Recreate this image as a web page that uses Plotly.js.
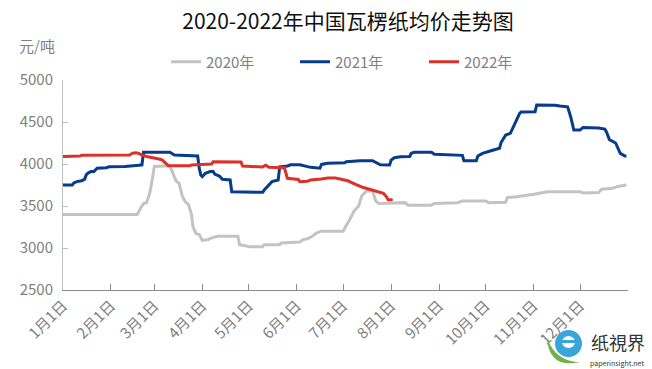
<!DOCTYPE html>
<html>
<head>
<meta charset="utf-8">
<script src="https://cdn.plot.ly/plotly-3.0.1.min.js"></script>
<style>html,body{margin:0;padding:0;background:#fff;}#chart{width:652px;height:369px;}</style>
</head>
<body>
<div id="chart"></div>
<script>
// Common base year for the month-day axis
const baseYear = '2021';
const monthTickLabels = ['1月1日','2月1日','3月1日','4月1日','5月1日','6月1日','7月1日','8月1日','9月1日','10月1日','11月1日','12月1日'];
const seriesNames = ['2020年','2021年','2022年'];

const md2020 = ['01-01','02-18','02-20','02-22','02-24','02-26','02-28','03-01','03-11','03-13','03-15','03-17','03-19','03-21','03-23','03-25','03-26','03-28','03-30','04-01','04-05','04-07','04-11','04-24','04-25','05-02','05-10','05-11','05-21','05-22','06-03','06-05','06-08','06-11','06-14','06-17','07-01','07-03','07-05','07-08','07-11','07-13','07-16','07-20','07-22','07-24','08-10','08-12','08-27','08-29','09-13','09-16','10-01','10-03','10-14','10-15','10-21','11-01','11-10','12-01','12-03','12-13','12-15','12-22','12-25','12-29','12-31'];
const val2020 = [3400,3400,3470,3530,3540,3650,3850,3970,3980,3900,3800,3770,3620,3550,3520,3400,3250,3170,3160,3090,3100,3120,3140,3140,3040,3015,3015,3040,3040,3060,3070,3100,3110,3140,3180,3200,3200,3270,3330,3440,3500,3620,3680,3680,3560,3530,3540,3510,3510,3530,3540,3560,3560,3540,3545,3600,3610,3640,3670,3670,3655,3660,3700,3710,3730,3745,3750];

const md2021 = ['01-01','01-07','01-08','01-10','01-13','01-15','01-16','01-17','01-19','01-21','01-23','01-29','01-31','02-10','02-19','02-21','02-22','03-11','03-14','03-27','03-29','03-30','03-31','04-01','04-03','04-06','04-08','04-09','04-12','04-14','04-19','04-20','05-10','05-11','05-13','05-16','05-20','05-21','05-26','05-28','06-03','06-06','06-10','06-16','06-17','06-21','07-02','07-03','07-12','07-20','07-24','07-25','07-31','08-01','08-03','08-07','08-13','08-14','08-16','08-27','08-29','09-05','09-16','09-17','09-25','09-26','09-29','10-04','10-08','10-10','10-11','10-14','10-17','10-20','10-23','10-24','11-02','11-03','11-15','11-18','11-23','11-25','11-27','12-01','12-03','12-13','12-17','12-18','12-20','12-24','12-27','12-30','12-31'];
const val2021 = [3750,3750,3775,3790,3800,3820,3870,3890,3910,3910,3950,3955,3968,3970,3985,3990,4140,4140,4107,4100,4095,3950,3870,3850,3890,3910,3910,3880,3857,3817,3810,3670,3663,3690,3730,3790,3810,3965,3976,3990,3990,3976,3960,3950,3995,4010,4015,4027,4039,4039,4005,3990,3988,4047,4075,4087,4090,4127,4140,4140,4115,4110,4103,4039,4039,4095,4127,4155,4175,4187,4255,4345,4365,4484,4603,4620,4623,4702,4700,4690,4680,4560,4405,4405,4435,4428,4415,4385,4290,4250,4127,4095,4095];

const md2022 = ['01-01','01-12','01-13','02-13','02-15','02-17','02-19','02-21','02-24','03-01','03-04','03-06','03-08','03-10','03-24','03-25','03-31','04-07','04-08','04-26','04-27','05-10','05-12','05-14','05-24','05-26','06-02','06-03','06-08','06-10','06-17','06-21','06-26','06-29','07-04','07-10','07-14','07-18','07-22','07-25','07-27','07-29','07-30','08-02'];
const val2022 = [4090,4095,4105,4107,4130,4135,4127,4107,4090,4075,4060,4050,4010,3980,3978,3988,3995,4000,4027,4025,3975,3965,3985,3960,3955,3829,3815,3790,3795,3810,3821,3833,3833,3820,3800,3750,3720,3700,3680,3665,3650,3610,3575,3575];

const colors = ['#c3c3c3','#073b8c','#db3128'];
const toX = md => md.map(d => baseYear + '-' + d);

const traces = [
  {x: toX(md2020), y: val2020, name: seriesNames[0]},
  {x: toX(md2021), y: val2021, name: seriesNames[1]},
  {x: toX(md2022), y: val2022, name: seriesNames[2]}
].map((t, i) => Object.assign(t, {type: 'scatter', mode: 'lines', line: {color: colors[i], width: 3}}));

const tickVals = monthTickLabels.map((_, i) => baseYear + '-' + String(i + 1).padStart(2, '0') + '-01').concat(['2022-01-01']);
const tickText = monthTickLabels.concat(['']);

const font = '"Noto Sans CJK SC", "Noto Sans", sans-serif';
// pixel -> paper helpers for decorative watermark placement
const px = v => (v - 63) / 565;
const py = v => (290 - v) / 210;

const layout = {
  width: 652, height: 369,
  margin: {l: 63, r: 24, t: 80, b: 79},
  paper_bgcolor: '#ffffff', plot_bgcolor: '#ffffff',
  font: {family: font, color: '#7f7f7f'},
  title: {text: '2020-2022年中国瓦楞纸均价走势图', font: {family: font, size: 21, color: '#111111'},
          xref: 'container', x: 348/652, xanchor: 'center', yref: 'container', y: 1 - 22/369, yanchor: 'middle'},
  showlegend: true,
  legend: {orientation: 'h', x: px(166), xanchor: 'left', y: py(62), yanchor: 'middle',
           font: {family: font, size: 15, color: '#7f7f7f'}, entrywidth: 84, entrywidthmode: 'pixels',
           itemwidth: 30, bgcolor: 'rgba(0,0,0,0)'},
  xaxis: {type: 'date', range: [baseYear + '-01-01', '2022-01-01'], tickmode: 'array', tickvals: tickVals, ticktext: tickText,
          tickangle: -45, ticks: 'inside', ticklen: 6, tickcolor: '#8c8c8c', showline: true, linecolor: '#8c8c8c', linewidth: 1,
          showgrid: false, zeroline: false, tickfont: {family: font, size: 15, color: '#7f7f7f'}, fixedrange: true},
  yaxis: {range: [2500, 5000], tick0: 2500, dtick: 500, ticks: 'inside', ticklen: 5, tickcolor: '#bfbfbf',
          showline: true, linecolor: '#bfbfbf', linewidth: 1, showgrid: false, zeroline: false, ticklabelstandoff: 6,
          tickfont: {family: font, size: 15, color: '#7f7f7f'}, fixedrange: true},
  shapes: [
    {type: 'path', xref: 'paper', yref: 'paper', layer: 'above', line: {width: 0}, fillcolor: '#6cb33f',
     path: `M ${px(547)} ${py(338)} Q ${px(549)} ${py(369)} ${px(580)} ${py(362)} Q ${px(556)} ${py(362)} ${px(547)} ${py(338)} Z`},
    {type: 'circle', xref: 'paper', yref: 'paper', layer: 'above', line: {width: 0}, fillcolor: '#3aa5da',
     x0: px(555), x1: px(582), y0: py(357), y1: py(330)},
    {type: 'circle', xref: 'paper', yref: 'paper', layer: 'above', line: {width: 0}, fillcolor: '#ffffff',
     x0: px(562), x1: px(575), y0: py(348), y1: py(336)},
    {type: 'rect', xref: 'paper', yref: 'paper', layer: 'above', line: {width: 0}, fillcolor: '#3aa5da',
     x0: px(560), x1: px(577), y0: py(343), y1: py(340)}
  ],
  annotations: [
    {text: '元/吨', xref: 'paper', yref: 'paper', x: px(37), y: py(46), xanchor: 'center', yanchor: 'middle',
     showarrow: false, font: {family: font, size: 15, color: '#7f7f7f'}},
    {text: '纸視界', xref: 'paper', yref: 'paper', x: px(618), y: py(342), xanchor: 'center', yanchor: 'middle',
     showarrow: false, borderpad: 0, font: {family: font, size: 18, color: '#333333'}},
    {text: 'paperinsight.net', xref: 'paper', yref: 'paper', x: px(617), y: py(363), xanchor: 'center', yanchor: 'middle',
     showarrow: false, borderpad: 0, font: {family: font, size: 7, color: '#333333'}}
  ]
};

Plotly.newPlot('chart', traces, layout, {displayModeBar: false, staticPlot: true});
</script>
</body>
</html>
